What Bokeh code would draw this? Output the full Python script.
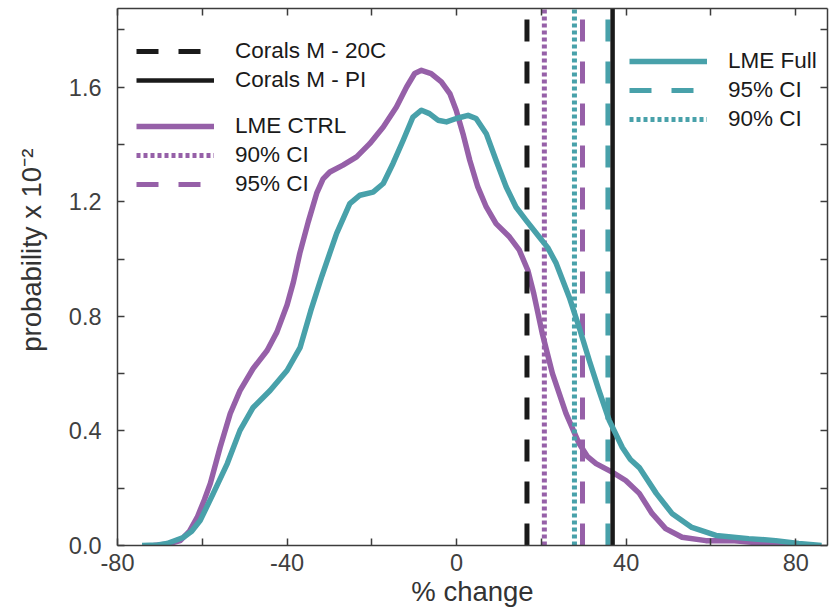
from bokeh.plotting import figure
from bokeh.models import (Range1d, LinearAxis, FixedTicker, Legend, LegendItem,
                          NumeralTickFormatter, CustomLabelingPolicy)
from bokeh.embed import file_html
from bokeh.resources import INLINE

# ---------------- data ----------------
ctrl_x = [-71.5, -68.5, -65.2, -63.0, -61.2, -59.5, -58.1, -55.8, -53.4, -51.1, -48.0, -44.7,
          -42.4, -40.0, -38.5, -37.0, -35.0, -33.0, -31.5, -29.9, -26.8, -23.6, -20.5, -17.3,
          -14.2, -11.8, -9.9, -8.3, -6.0, -3.6, -1.6, -0.1, 1.5, 3.1, 5.0, 7.0, 9.3, 12.5,
          14.8, 16.8, 18.2, 20.2, 22.6, 25.8, 28.9, 30.9, 32.9, 36.7, 39.9, 43.1, 46.1, 49.3,
          53.2, 58.8, 64.9, 72.9, 78.4]
ctrl_y = [0.0, 0.004, 0.017, 0.05, 0.098, 0.16, 0.217, 0.342, 0.461, 0.541, 0.618, 0.681,
          0.745, 0.84, 0.92, 1.02, 1.13, 1.23, 1.28, 1.304, 1.328, 1.357, 1.403, 1.461,
          1.531, 1.601, 1.648, 1.659, 1.648, 1.619, 1.578, 1.520, 1.438, 1.345, 1.252, 1.182,
          1.124, 1.077, 1.031, 0.961, 0.88, 0.741, 0.601, 0.461, 0.356, 0.31, 0.286, 0.256,
          0.227, 0.182, 0.112, 0.059, 0.029, 0.017, 0.017, 0.007, 0.0]

full_x = [-74.2, -70.5, -68.3, -64.5, -62.5, -60.5, -57.4, -54.1, -51.1, -48.0, -44.0, -40.0,
          -36.9, -34.4, -31.8, -28.3, -25.2, -22.8, -19.7, -17.3, -15.0, -12.6, -10.3, -8.3,
          -6.4, -4.4, -2.4, -0.1, 2.7, 4.6, 7.0, 9.3, 11.7, 14.0, 16.4, 19.5, 21.5, 23.5,
          26.6, 28.9, 31.3, 33.6, 36.0, 39.1, 41.0, 43.1, 47.1, 50.8, 55.5, 61.2, 68.9, 75.3,
          80.7, 86.1]
full_y = [0.0, 0.002, 0.007, 0.028, 0.05, 0.087, 0.182, 0.286, 0.402, 0.482, 0.541, 0.611,
          0.692, 0.82, 0.94, 1.09, 1.194, 1.223, 1.234, 1.264, 1.334, 1.415, 1.496, 1.520,
          1.508, 1.485, 1.479, 1.491, 1.502, 1.491, 1.438, 1.345, 1.252, 1.182, 1.135, 1.077,
          1.04, 0.985, 0.866, 0.762, 0.646, 0.541, 0.437, 0.342, 0.30, 0.272, 0.182, 0.112,
          0.063, 0.035, 0.024, 0.017, 0.007, 0.0]

corals_20c = 16.6
corals_pi = 36.8
ctrl_ci90 = 20.7
ctrl_ci95 = 29.7
full_ci95 = 35.7
full_ci90 = 27.8

x_major = [-80, -40, 0, 40, 80]
x_minor = [-60, -20, 20, 60]
x_labels = {-80: "-80", -40: "-40", 0: "0", 40: "40", 80: "80"}
y_major = [0.0, 0.4, 0.8, 1.2, 1.6]
y_minor = [0.2, 0.6, 1.0, 1.4, 1.8]

x_lo, x_hi = -80, 87.5
y_lo, y_hi = 0.0, 1.875

# ---------------- style ----------------
PURPLE = "#9660A8"
TEAL = "#48A1AA"
BLACK = "#1a1a1a"
AXC = "#3c3c3c"
FONT = "Liberation Sans"
NB = "\u00a0"

p = figure(width=831, height=611, x_range=Range1d(x_lo, x_hi), y_range=Range1d(y_lo, y_hi),
           output_backend="svg", toolbar_location=None,
           min_border_left=117, min_border_right=2, min_border_top=8, min_border_bottom=66)
p.grid.visible = False
p.outline_line_color = None
p.background_fill_color = "white"

hide_all = CustomLabelingPolicy(code="for (const i of indices) { indices.unset(i) }\nreturn indices")

def style_axis(ax, ticks, minor, labels=True):
    ax.ticker = FixedTicker(ticks=ticks, minor_ticks=minor)
    ax.axis_line_color = AXC
    ax.axis_line_width = 1.5
    ax.major_tick_line_color = AXC
    ax.minor_tick_line_color = AXC
    ax.major_tick_line_width = 1.5
    ax.minor_tick_line_width = 1.5
    ax.major_tick_in = 7
    ax.major_tick_out = 0
    ax.minor_tick_in = 7
    ax.minor_tick_out = 0
    ax.major_label_text_font = FONT
    ax.major_label_text_font_size = "23.5px"
    ax.major_label_text_color = "#404040"
    ax.axis_label_text_font = FONT
    ax.axis_label_text_font_style = "normal"
    ax.axis_label_text_color = "#333333"
    ax.axis_label_text_font_size = "27.5px"
    if not labels:
        ax.major_label_text_font_size = "1px"
        ax.major_label_standoff = 0
        ax.major_label_policy = hide_all

style_axis(p.xaxis[0], x_major, x_minor)
p.xaxis[0].major_label_standoff = 8
p.xaxis[0].major_label_overrides = x_labels
p.xaxis[0].axis_label = "% change"
p.xaxis[0].axis_label_standoff = 2

style_axis(p.yaxis[0], y_major, y_minor)
p.yaxis[0].major_label_standoff = 16
p.yaxis[0].formatter = NumeralTickFormatter(format="0.0")
p.yaxis[0].axis_label = NB * 7 + "probability x 10\u207b\u00b2"
p.yaxis[0].axis_label_standoff = 19

top = LinearAxis()
style_axis(top, x_major, x_minor, labels=False)
p.add_layout(top, "above")
right = LinearAxis()
style_axis(right, y_major, y_minor, labels=False)
p.add_layout(right, "right")

# ---------------- glyphs ----------------
r_ctrl = p.line(ctrl_x, ctrl_y, line_color=PURPLE, line_width=5.5, line_join="round")

def vline(xv, color, dash, width=5):
    return p.segment(x0=[xv], x1=[xv], y0=[y_lo], y1=[y_hi], line_color=color,
                     line_width=width, line_dash=dash)

r_20c = vline(corals_20c, BLACK, "22 20")
r_c90 = vline(ctrl_ci90, PURPLE, "4 3")
r_f90 = vline(full_ci90, TEAL, "4 3")
r_c95 = vline(ctrl_ci95, PURPLE, "22 20")
r_f95 = vline(full_ci95, TEAL, "22 20")
r_pi = vline(corals_pi, BLACK, "solid", width=4.5)

r_full = p.line(full_x, full_y, line_color=TEAL, line_width=5.5, line_join="round")

# ---------------- legends ----------------
def make_legend(items, loc):
    lg = Legend(items=[LegendItem(label=t, renderers=[r]) for t, r in items], location=loc)
    lg.label_text_font = FONT
    lg.label_text_font_size = "22.5px"
    lg.label_text_color = BLACK
    lg.glyph_width = 78
    lg.glyph_height = 28
    lg.label_height = 28
    lg.label_standoff = 21
    lg.padding = 0
    lg.margin = 0
    lg.spacing = 1
    lg.border_line_alpha = 0
    lg.background_fill_alpha = 0
    p.add_layout(lg)

make_legend([("Corals M - 20C", r_20c), ("Corals M - PI", r_pi)], (19, 451))
make_legend([("LME CTRL", r_ctrl), ("90% CI", r_c90), ("95% CI", r_c95)], (19, 347))
make_legend([("LME Full", r_full), ("95% CI", r_f95), ("90% CI", r_f90)], (512, 412))

open("out.html", "w").write(file_html(p, INLINE))
